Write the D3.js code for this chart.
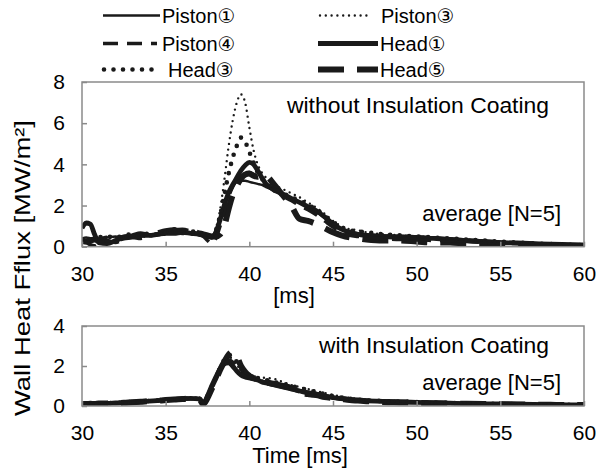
<!DOCTYPE html>
<html><head><meta charset="utf-8">
<script src="https://cdn.jsdelivr.net/npm/d3@7"></script>
<style>
html,body{margin:0;padding:0;background:#fff;}
svg{display:block;}
text{font-family:"Liberation Sans",Arial,"DejaVu Sans",sans-serif;fill:#000;}
</style>
</head><body>
<svg id="c" width="604" height="470"></svg>
<script>
// ---------- DATA ----------
const time = [30,30.25,30.5,30.75,31,31.5,32,32.5,33,33.5,34,34.5,35,35.5,36,36.5,37,37.25,37.5,37.75,38,38.25,38.5,38.75,39,39.25,39.5,39.75,40,40.25,40.5,40.75,41,41.5,42,42.5,43,43.5,44,44.5,45,45.5,46,46.5,47,48,49,50,51,52,53,54,55,56,57,58,59,60];

const seriesNames = ["Piston①","Piston③","Piston④","Head①","Head③","Head⑤"];

// without Insulation Coating  [MW/m²]
const topPiston1 = [0.4,0.45,0.4,0.35,0.4,0.45,0.5,0.4,0.55,0.5,0.6,0.55,0.65,0.7,0.75,0.7,0.65,0.6,0.55,0.5,0.8,1.4,2.1,2.6,2.95,3.15,3.2,3.2,3.15,3.1,3.05,3.0,2.9,2.75,2.55,2.35,2.15,1.95,1.7,1.4,1.1,0.85,0.7,0.65,0.6,0.55,0.55,0.5,0.45,0.4,0.35,0.3,0.25,0.2,0.18,0.15,0.12,0.1];
const topPiston3 = [0.3,0.35,0.3,0.4,0.35,0.4,0.45,0.5,0.45,0.55,0.5,0.6,0.7,0.75,0.8,0.7,0.7,0.65,0.6,0.55,0.9,1.8,3.2,4.8,6.1,7.0,7.4,7.0,5.8,4.7,4.0,3.6,3.35,3.0,2.8,2.6,2.4,2.15,1.9,1.6,1.25,1.0,0.85,0.8,0.7,0.6,0.55,0.5,0.45,0.4,0.35,0.3,0.25,0.22,0.18,0.15,0.12,0.1];
const topPiston4 = [0.25,0.2,0.1,0.05,0.15,0.3,0.2,0.35,0.45,0.4,0.5,0.6,0.6,0.8,0.85,0.75,0.6,0.5,0.3,0.15,0.4,1.0,1.7,2.4,2.9,3.25,3.45,3.55,3.6,3.5,3.35,3.2,3.0,2.7,2.45,2.25,2.0,1.8,1.55,1.25,0.95,0.7,0.55,0.5,0.45,0.4,0.35,0.35,0.3,0.3,0.25,0.2,0.18,0.15,0.12,0.1,0.08,0.06];
const topHead1 = [0.9,1.15,1.1,0.6,0.2,0.15,0.3,0.45,0.5,0.55,0.55,0.6,0.65,0.65,0.7,0.65,0.6,0.55,0.5,0.45,0.7,1.3,2.0,2.6,3.0,3.35,3.7,3.95,4.1,4.0,3.7,3.35,3.05,2.75,2.55,2.35,2.15,1.95,1.75,1.45,1.1,0.85,0.7,0.6,0.55,0.5,0.45,0.45,0.4,0.35,0.3,0.25,0.2,0.18,0.15,0.12,0.1,0.08];
const topHead3 = [0.35,0.4,0.35,0.4,0.45,0.5,0.45,0.55,0.6,0.5,0.65,0.6,0.7,0.85,0.8,0.75,0.7,0.6,0.55,0.5,0.8,1.5,2.5,3.5,4.3,4.9,5.3,5.1,4.6,4.1,3.6,3.3,3.1,2.8,2.6,2.4,2.25,2.05,1.8,1.5,1.2,0.95,0.8,0.75,0.7,0.6,0.55,0.5,0.45,0.4,0.35,0.3,0.25,0.2,0.16,0.13,0.1,0.08];
const topHead5 = [0.3,0.25,0.3,0.35,0.3,0.4,0.35,0.45,0.5,0.6,0.55,0.65,0.75,0.8,0.7,0.75,0.65,0.6,0.55,0.5,0.5,0.6,1.0,1.8,2.5,2.95,3.3,3.5,3.55,3.45,3.4,3.5,3.45,3.0,2.5,2.0,1.35,1.25,1.1,0.9,0.7,0.55,0.45,0.4,0.35,0.3,0.3,0.25,0.2,0.2,0.15,0.15,0.12,0.1,0.08,0.07,0.06,0.05];

// with Insulation Coating  [MW/m²]
const botPiston1 = [0.08,0.1,0.1,0.1,0.12,0.12,0.14,0.15,0.17,0.2,0.22,0.25,0.28,0.3,0.33,0.35,0.33,0.15,0.5,0.95,1.4,1.8,2.05,2.1,1.95,1.75,1.6,1.5,1.4,1.35,1.3,1.25,1.2,1.1,1.0,0.9,0.8,0.72,0.65,0.55,0.45,0.4,0.35,0.3,0.28,0.25,0.22,0.2,0.17,0.15,0.13,0.12,0.1,0.09,0.08,0.07,0.06,0.05];
const botPiston3 = [0.1,0.1,0.12,0.1,0.12,0.13,0.15,0.16,0.18,0.2,0.23,0.26,0.3,0.32,0.35,0.38,0.35,0.12,0.45,0.9,1.35,1.85,2.2,2.45,2.35,2.05,1.8,1.65,1.55,1.5,1.45,1.42,1.4,1.35,1.2,1.05,0.95,0.85,0.75,0.65,0.55,0.48,0.4,0.35,0.3,0.27,0.24,0.2,0.18,0.16,0.14,0.12,0.1,0.09,0.08,0.07,0.06,0.05];
const botPiston4 = [0.12,0.1,0.1,0.12,0.1,0.14,0.15,0.17,0.18,0.21,0.24,0.27,0.3,0.32,0.34,0.36,0.32,0.1,0.4,0.85,1.3,1.75,2.1,2.3,2.2,1.9,1.65,1.5,1.4,1.35,1.3,1.25,1.15,1.05,0.95,0.85,0.7,0.55,0.5,0.5,0.4,0.35,0.3,0.28,0.25,0.22,0.2,0.18,0.15,0.13,0.12,0.1,0.09,0.08,0.07,0.06,0.05,0.05];
const botHead1 = [0.1,0.1,0.1,0.11,0.12,0.13,0.15,0.17,0.19,0.21,0.24,0.27,0.3,0.33,0.36,0.38,0.36,0.08,0.5,1.0,1.45,1.85,2.15,2.2,2.0,1.75,1.55,1.45,1.4,1.35,1.3,1.2,1.15,1.05,0.95,0.85,0.75,0.65,0.6,0.5,0.42,0.37,0.32,0.28,0.26,0.23,0.2,0.18,0.16,0.14,0.12,0.11,0.1,0.09,0.08,0.07,0.06,0.06];
const botHead3 = [0.1,0.11,0.1,0.12,0.12,0.14,0.16,0.18,0.2,0.22,0.25,0.28,0.31,0.33,0.36,0.38,0.37,0.12,0.5,0.95,1.4,1.9,2.3,2.55,2.5,2.2,1.85,1.65,1.55,1.45,1.4,1.35,1.3,1.2,1.1,1.0,0.9,0.8,0.7,0.6,0.5,0.42,0.36,0.32,0.28,0.25,0.22,0.2,0.17,0.15,0.13,0.12,0.1,0.09,0.08,0.07,0.06,0.05];
const botHead5 = [0.1,0.1,0.11,0.1,0.12,0.13,0.15,0.16,0.19,0.21,0.24,0.26,0.3,0.32,0.35,0.37,0.34,0.1,0.4,0.85,1.3,1.8,2.2,2.55,2.7,2.5,2.0,1.7,1.5,1.4,1.35,1.3,1.2,1.1,1.0,0.9,0.65,0.6,0.55,0.45,0.4,0.35,0.3,0.27,0.24,0.2,0.18,0.16,0.14,0.12,0.11,0.1,0.09,0.08,0.07,0.06,0.05,0.05];

const xTicks = [30,35,40,45,50,55,60];
const topYTicks = [0,2,4,6,8];
const bottomYTicks = [0,2,4];
const topPanelLabel = "without Insulation Coating";
const bottomPanelLabel = "with Insulation Coating";
const averageLabel = "average [N=5]";
const topXLabel = "[ms]";
const bottomXLabel = "Time [ms]";
const yLabel = "Wall Heat Fflux [MW/m²]";

// ---------- STYLE ----------
const styles = {
  "Piston①": {w:2.5, dash:null, cap:"butt"},
  "Piston③": {w:2.4, dash:"0,5.8", cap:"round"},
  "Piston④": {w:3.5, dash:"15,9", cap:"butt"},
  "Head①":   {w:4.8, dash:null, cap:"butt"},
  "Head③":   {w:4.6, dash:"0,9.5", cap:"round"},
  "Head⑤":   {w:6,   dash:"26,13", cap:"butt"}
};
const drawOrder = ["Head⑤","Head①","Piston④","Piston①","Head③","Piston③"];
const frameColor = "#8a8a8a";

const svg = d3.select("#c");
const x = d3.scaleLinear().domain([30,60]).range([82,584]);

function panel(id, yDomain, yRange, yTicks, dataMap) {
  const y = d3.scaleLinear().domain(yDomain).range(yRange);
  svg.append("clipPath").attr("id", id).append("rect")
    .attr("x", x.range()[0]).attr("y", yRange[1])
    .attr("width", x.range()[1]-x.range()[0]).attr("height", yRange[0]-yRange[1]);

  const line = d3.line().x((d,i)=>x(time[i])).y(d=>y(d)).curve(d3.curveMonotoneX);
  const g = svg.append("g").attr("clip-path", `url(#${id})`);
  drawOrder.forEach(name => {
    const s = styles[name];
    g.append("path").datum(dataMap[name]).attr("d", line)
      .attr("fill","none").attr("stroke","#1a1a1a")
      .attr("stroke-width", s.w).attr("stroke-linecap", s.cap)
      .attr("stroke-linejoin","round")
      .attr("stroke-dasharray", s.dash);
  });

  // frame
  svg.append("rect").attr("x", x.range()[0]).attr("y", yRange[1])
    .attr("width", x.range()[1]-x.range()[0]).attr("height", yRange[0]-yRange[1])
    .attr("fill","none").attr("stroke", frameColor).attr("stroke-width",1.5);

  const ax = svg.append("g").attr("transform", `translate(0,${yRange[0]})`)
    .call(d3.axisBottom(x).tickValues(xTicks).tickSize(-5).tickPadding(19).tickFormat(d3.format("d")));
  const ay = svg.append("g").attr("transform", `translate(${x.range()[0]},0)`)
    .call(d3.axisLeft(y).tickValues(yTicks).tickSize(-5).tickPadding(17).tickFormat(d3.format("d")));
  [ax, ay].forEach(a => {
    a.select(".domain").remove();
    a.selectAll(".tick line").attr("stroke", frameColor).attr("stroke-width",1.5);
    a.selectAll(".tick text").attr("font-size", 21).attr("font-family", '"Liberation Sans",Arial,sans-serif').attr("fill","#000");
  });
  return y;
}

panel("clipTop", [0,8], [246.7,82], topYTicks, {
  "Piston①": topPiston1, "Piston③": topPiston3, "Piston④": topPiston4,
  "Head①": topHead1, "Head③": topHead3, "Head⑤": topHead5
});
panel("clipBot", [0,4], [406,326], bottomYTicks, {
  "Piston①": botPiston1, "Piston③": botPiston3, "Piston④": botPiston4,
  "Head①": botHead1, "Head③": botHead3, "Head⑤": botHead5
});

// annotations
svg.append("text").attr("x",287).attr("y",113).attr("font-size",22)
  .attr("textLength",262).attr("lengthAdjust","spacingAndGlyphs").text(topPanelLabel);
svg.append("text").attr("x",561).attr("y",221).attr("font-size",22).attr("text-anchor","end").text(averageLabel);
svg.append("text").attr("x",319).attr("y",353).attr("font-size",22)
  .attr("textLength",230).attr("lengthAdjust","spacingAndGlyphs").text(bottomPanelLabel);
svg.append("text").attr("x",561).attr("y",390).attr("font-size",22).attr("text-anchor","end").text(averageLabel);

// axis labels
svg.append("text").attr("x",294).attr("y",303).attr("font-size",22).attr("text-anchor","middle").text(topXLabel);
svg.append("text").attr("x",300).attr("y",463).attr("font-size",22).attr("text-anchor","middle").text(bottomXLabel);
svg.append("text").attr("transform","translate(30,268) rotate(-90)").attr("font-size",22)
  .attr("text-anchor","middle").attr("textLength",296).attr("lengthAdjust","spacingAndGlyphs").text(yLabel);

// legend
const legendItems = [
  {name:"Piston①", col:0, row:0, x1:103, x2:160, tx:162},
  {name:"Piston③", col:1, row:0, x1:320, x2:372, tx:381},
  {name:"Piston④", col:0, row:1, x1:103, x2:157, tx:162},
  {name:"Head①",   col:1, row:1, x1:318, x2:378, tx:380},
  {name:"Head③",   col:0, row:2, x1:104, x2:152, tx:168},
  {name:"Head⑤",   col:1, row:2, x1:318, x2:378, tx:380}
];
const rowBase = [23, 51, 77];
legendItems.forEach(it => {
  const s = styles[it.name];
  const yb = rowBase[it.row];
  svg.append("line").attr("x1",it.x1).attr("x2",it.x2).attr("y1",yb-7.5).attr("y2",yb-7.5)
    .attr("stroke","#1a1a1a").attr("stroke-width",s.w).attr("stroke-linecap",s.cap)
    .attr("stroke-dasharray",s.dash);
  svg.append("text").attr("x",it.tx).attr("y",yb).attr("font-size",20).text(it.name);
});
</script>
</body></html>
